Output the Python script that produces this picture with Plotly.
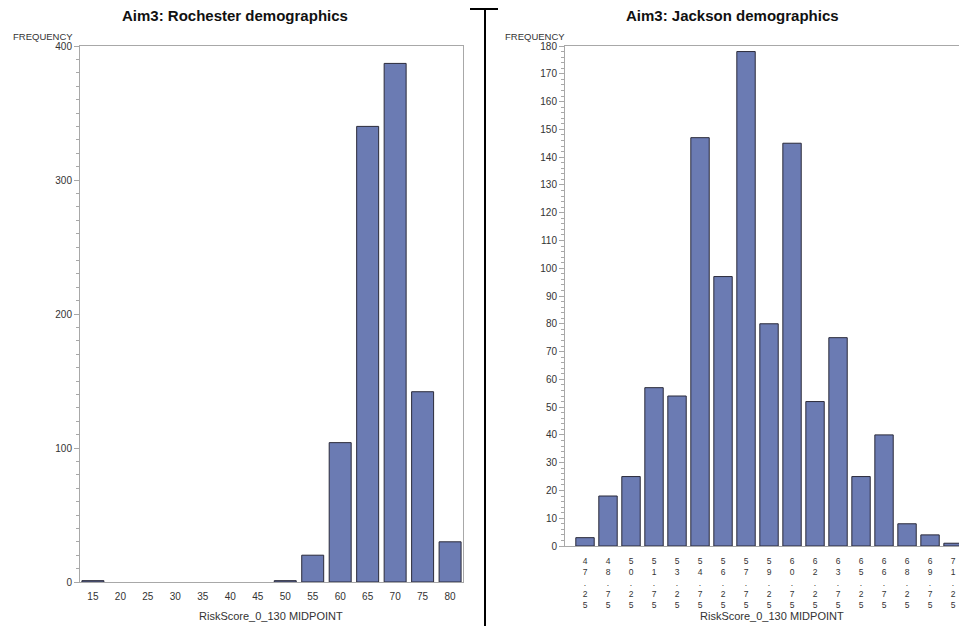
import plotly.graph_objects as go

# Rochester
roch_midpoints = ["15", "20", "25", "30", "35", "40", "45", "50", "55", "60", "65", "70", "75", "80"]
roch_freq = [1, 0, 0, 0, 0, 0, 0, 1, 20, 104, 340, 387, 142, 30]

# Jackson
jack_midpoints = ["47.25", "48.75", "50.25", "51.75", "53.25", "54.75", "56.25", "57.75", "59.25",
                  "60.75", "62.25", "63.75", "65.25", "66.75", "68.25", "69.75", "71.25"]
jack_freq = [3, 18, 25, 57, 54, 147, 97, 178, 80, 145, 52, 75, 25, 40, 8, 4, 1]
jack_ticktext = ["<br>".join(list(m)) for m in jack_midpoints]

W, H = 967, 626
OFF = 8  # page body margin
FILL = "#6b7bb3"
EDGE = "#2a2a3a"
FONT = "Arial, Liberation Sans, sans-serif"
TXT = "#333333"
LINE = "#a8a8a8"
CLEAR = "rgba(0,0,0,0)"


def px(x):
    return (x - OFF) / W


def py(y):
    return 1 - (y - OFF) / H


fig = go.Figure()
fig.add_trace(go.Bar(x=roch_midpoints, y=roch_freq,
                     marker=dict(color=FILL, line=dict(color=EDGE, width=[1 if v else 0 for v in roch_freq])),
                     xaxis="x", yaxis="y", showlegend=False))
fig.add_trace(go.Bar(x=jack_midpoints, y=jack_freq,
                     marker=dict(color=FILL, line=dict(color=EDGE, width=[1 if v else 0 for v in jack_freq])),
                     xaxis="x2", yaxis="y2", showlegend=False))

axis_common = dict(showline=True, linecolor=LINE, linewidth=1, mirror=True, showgrid=False, zeroline=False,
                   automargin=False)

fig.update_layout(
    width=W, height=H,
    margin=dict(l=0, r=0, t=0, b=0, pad=0),
    paper_bgcolor="white", plot_bgcolor="white",
    bargap=0.2,
    font=dict(family=FONT, color=TXT),
    xaxis=dict(domain=[px(80), px(463)], anchor="y", range=[-0.47, 13.47],
               ticks="outside", ticklen=5, tickcolor=CLEAR,
               tickmode="array", tickvals=roch_midpoints, ticktext=roch_midpoints,
               tickfont=dict(family=FONT, size=10, color=TXT), **axis_common),
    yaxis=dict(domain=[py(582), py(46)], anchor="x", range=[0, 400], tickmode="linear", dtick=100,
               ticks="outside", ticklen=5, tickcolor=LINE,
               tickfont=dict(family=FONT, size=10, color=TXT),
               minor=dict(dtick=10, ticks="outside", ticklen=3, tickcolor=LINE), **axis_common),
    xaxis2=dict(domain=[px(565), px(965)], anchor="y2", range=[-0.87, 16.52],
                ticks="outside", ticklen=7, tickcolor=CLEAR,
                tickmode="array", tickvals=jack_midpoints, ticktext=jack_ticktext,
                tickfont=dict(family=FONT, size=8.5, color=TXT), **axis_common),
    yaxis2=dict(domain=[py(546), py(46)], anchor="x2", range=[0, 180], tickmode="linear", dtick=10,
                ticks="outside", ticklen=5, tickcolor=LINE,
                tickfont=dict(family=FONT, size=10, color=TXT),
                minor=dict(dtick=2, ticks="outside", ticklen=3, tickcolor=LINE), **axis_common),
)

ann = [
    dict(text="<b>Aim3: Rochester demographics</b>", x=px(235), y=py(16), font=dict(size=15, color="#111111")),
    dict(text="<b>Aim3: Jackson demographics</b>", x=px(732), y=py(16), font=dict(size=15, color="#111111")),
    dict(text="FREQUENCY", x=px(75), y=py(37), xanchor="right", font=dict(size=9.5, color=TXT)),
    dict(text="FREQUENCY", x=px(567), y=py(37), xanchor="right", font=dict(size=9.5, color=TXT)),
    dict(text="RiskScore_0_130 MIDPOINT", x=px(271), y=py(616), font=dict(size=11, color=TXT)),
    dict(text="RiskScore_0_130 MIDPOINT", x=px(772), y=py(616), font=dict(size=11, color=TXT)),
]
for a in ann:
    a.setdefault("xanchor", "center")
    fig.add_annotation(xref="paper", yref="paper", yanchor="middle", showarrow=False,
                       font_family=FONT, **a)

fig.add_shape(type="line", xref="paper", yref="paper", x0=px(485), x1=px(485), y0=0, y1=py(9),
              line=dict(color="black", width=2))
fig.add_shape(type="line", xref="paper", yref="paper", x0=px(470), x1=px(498), y0=py(9), y1=py(9),
              line=dict(color="black", width=2))

fig.write_html("out.html")
